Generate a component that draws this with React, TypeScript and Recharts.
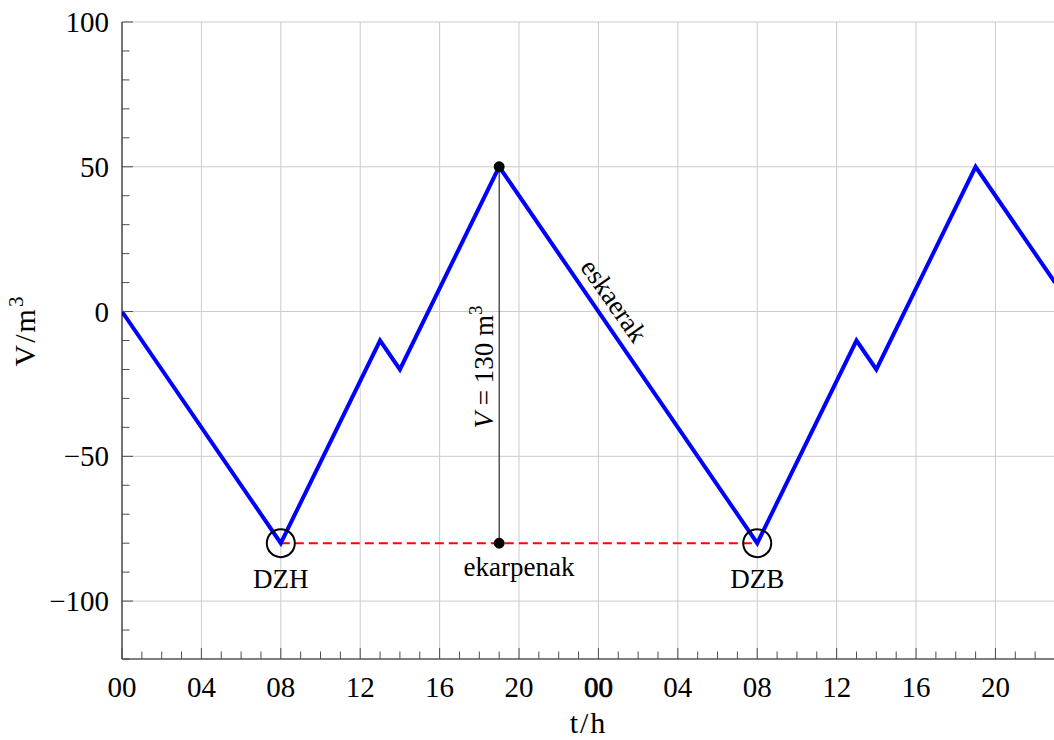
import React from 'react';
import {
  LineChart,
  Line,
  XAxis,
  YAxis,
  CartesianGrid,
  ReferenceLine,
  ReferenceDot,
} from 'recharts';

// Tank volume over two days: fill/draw cycle
const hours = [0, 8, 13, 14, 19, 32, 37, 38, 43, 47];
const volumes = [0, -80, -10, -20, 50, -80, -10, -20, 50, 10];

// Axis ticks
const majorHours = [0, 4, 8, 12, 16, 20, 24, 28, 32, 36, 40, 44];
const hourLabels = ['00', '04', '08', '12', '16', '20', '00', '04', '08', '12', '16', '20'];
const allHours = Array.from({ length: 48 }, (_, i) => i);
const majorVolumes = [-100, -50, 0, 50, 100];
const allVolumes = [-120, -110, -100, -90, -80, -70, -60, -50, -40, -30, -20, -10, 0, 10, 20, 30, 40, 50, 60, 70, 80, 90, 100];
const dayBreakHour = 24;

// Annotated points
const minHours = [8, 32];
const minLabels = ['DZH', 'DZB'];
const minVolume = -80;
const peakHour = 19;
const peakVolume = 50;
const storageVolume = peakVolume - minVolume;
const demandAnchor = { t: 24, v: 0 };

const X_DOMAIN: [number, number] = [0, 47];
const Y_DOMAIN: [number, number] = [-120, 100];

const FONT = "'Liberation Serif', 'Times New Roman', serif";
const TICK_COLOR = '#4d4d4d';
const GRID_COLOR = '#cbcbcb';

const data = hours.map((t, i) => ({ t, v: volumes[i] }));

const makeXTick = (side: 'bottom' | 'top') => (props: any) => {
  const { x, y, payload } = props;
  const value = payload.value as number;
  const idx = majorHours.indexOf(value);
  const len = idx >= 0 ? 11 : 7.5;
  const dir = side === 'bottom' ? -1 : 1;
  const heavy = value === dayBreakHour;
  return (
    <g>
      <line x1={x} x2={x} y1={y} y2={y + dir * len} stroke={TICK_COLOR} strokeWidth={1} />
      {side === 'bottom' && idx >= 0 && (
        <text
          x={x}
          y={y + 38}
          textAnchor="middle"
          fontFamily={FONT}
          fontSize={29}
          fill="#000"
          stroke={heavy ? '#000' : 'none'}
          strokeWidth={heavy ? 0.7 : 0}
        >
          {hourLabels[idx]}
        </text>
      )}
    </g>
  );
};

const formatVolume = (v: number) => (v < 0 ? `\u2212${Math.abs(v)}` : `${v}`);

const makeYTick = (side: 'left' | 'right') => (props: any) => {
  const { x, y, payload } = props;
  const value = payload.value as number;
  const major = majorVolumes.includes(value);
  const len = major ? 11 : 7.5;
  const dir = side === 'left' ? 1 : -1;
  return (
    <g>
      <line x1={x} x2={x + dir * len} y1={y} y2={y} stroke={TICK_COLOR} strokeWidth={1} />
      {side === 'left' && major && (
        <text x={x - 13} y={y + 10} textAnchor="end" fontFamily={FONT} fontSize={29} fill="#000">
          {formatVolume(value)}
        </text>
      )}
    </g>
  );
};

const XTitle = (props: any) => {
  const { viewBox } = props;
  return (
    <text
      x={viewBox.x + viewBox.width / 2}
      y={viewBox.y + 74}
      textAnchor="middle"
      fontFamily={FONT}
      fontSize={30}
      letterSpacing={2}
      fill="#000"
    >
      t/h
    </text>
  );
};

const YTitle = (props: any) => {
  const { viewBox } = props;
  const cx = viewBox.x + 35;
  const cy = viewBox.y + viewBox.height / 2 - 10;
  return (
    <text
      transform={`translate(${cx},${cy}) rotate(-90)`}
      textAnchor="middle"
      fontFamily={FONT}
      fontSize={30}
      letterSpacing={2}
      fill="#000"
    >
      V/m
      <tspan fontSize={21} dy={-12}>3</tspan>
    </text>
  );
};

const textShape = (label: string, dy: number) => (props: any) => {
  const { cx, cy } = props;
  return (
    <text x={cx} y={cy + dy} textAnchor="middle" fontFamily={FONT} fontSize={27} fill="#000">
      {label}
    </text>
  );
};

const StorageLabel = (props: any) => {
  const { cx, cy } = props;
  return (
    <text
      transform={`translate(${cx},${cy}) rotate(-90)`}
      x={-12}
      y={-6}
      textAnchor="middle"
      fontFamily={FONT}
      fontSize={27}
      fill="#000"
    >
      <tspan fontStyle="italic">V</tspan>
      <tspan> = {storageVolume} m</tspan>
      <tspan fontSize={19} dy={-11}>3</tspan>
    </text>
  );
};

const DemandLabel = (props: any) => {
  const { cx, cy } = props;
  return (
    <text
      transform={`translate(${cx},${cy}) rotate(55)`}
      x={0}
      y={-10}
      textAnchor="middle"
      fontFamily={FONT}
      fontSize={27}
      fill="#000"
    >
      eskaerak
    </text>
  );
};

export default function App() {
  return (
    <div
      style={{
        position: 'absolute',
        left: 0,
        top: 0,
        width: 1054,
        height: 740,
        overflow: 'hidden',
        background: '#fff',
      }}
    >
      <LineChart
        width={1060}
        height={740}
        data={data}
        margin={{ top: 22, right: 5, bottom: 0, left: 0 }}
      >
        <CartesianGrid
          xAxisId="b"
          yAxisId="l"
          stroke={GRID_COLOR}
          strokeWidth={1}
          verticalValues={majorHours}
          horizontalValues={majorVolumes}
        />
        <XAxis
          xAxisId="b"
          dataKey="t"
          type="number"
          domain={X_DOMAIN}
          allowDataOverflow
          ticks={allHours}
          interval={0}
          tickSize={0}
          tickMargin={0}
          tickLine={false}
          tick={makeXTick('bottom')}
          axisLine={{ stroke: '#000', strokeWidth: 1 }}
          height={81}
          label={{ content: XTitle }}
        />
        <XAxis
          xAxisId="t"
          orientation="top"
          dataKey="t"
          type="number"
          domain={X_DOMAIN}
          allowDataOverflow
          ticks={allHours}
          interval={0}
          tickSize={0}
          tickMargin={0}
          tickLine={false}
          tick={makeXTick('top')}
          axisLine={{ stroke: '#000', strokeWidth: 1 }}
          height={0}
        />
        <YAxis
          yAxisId="l"
          type="number"
          domain={Y_DOMAIN}
          allowDataOverflow
          ticks={allVolumes}
          interval={0}
          tickSize={0}
          tickMargin={0}
          tickLine={false}
          tick={makeYTick('left')}
          axisLine={{ stroke: '#000', strokeWidth: 1 }}
          width={122}
          label={{ content: YTitle }}
        />
        <YAxis
          yAxisId="r"
          orientation="right"
          type="number"
          domain={Y_DOMAIN}
          allowDataOverflow
          ticks={allVolumes}
          interval={0}
          tickSize={0}
          tickMargin={0}
          tickLine={false}
          tick={makeYTick('right')}
          axisLine={{ stroke: '#000', strokeWidth: 1 }}
          width={0}
        />

        <ReferenceLine
          xAxisId="b"
          yAxisId="l"
          segment={[
            { x: minHours[0], y: minVolume },
            { x: minHours[1], y: minVolume },
          ]}
          stroke="#ff0000"
          strokeWidth={2}
          strokeDasharray="9 5"
        />
        <ReferenceLine
          xAxisId="b"
          yAxisId="l"
          segment={[
            { x: peakHour, y: minVolume },
            { x: peakHour, y: peakVolume },
          ]}
          stroke="#000"
          strokeWidth={1}
        />

        <Line
          xAxisId="b"
          yAxisId="l"
          type="linear"
          dataKey="v"
          stroke="#0000ff"
          strokeWidth={4}
          dot={false}
          activeDot={false}
          isAnimationActive={false}
        />

        {minHours.map((h, i) => (
          <ReferenceDot
            key={`ring-${i}`}
            xAxisId="b"
            yAxisId="l"
            x={h}
            y={minVolume}
            r={14}
            fill="none"
            stroke="#000"
            strokeWidth={2}
          />
        ))}
        {minHours.map((h, i) => (
          <ReferenceDot
            key={`name-${i}`}
            xAxisId="b"
            yAxisId="l"
            x={h}
            y={minVolume}
            r={0}
            shape={textShape(minLabels[i], 45)}
          />
        ))}
        <ReferenceDot
          xAxisId="b"
          yAxisId="l"
          x={peakHour}
          y={peakVolume}
          r={5}
          fill="#000"
          stroke="#000"
        />
        <ReferenceDot
          xAxisId="b"
          yAxisId="l"
          x={peakHour}
          y={minVolume}
          r={5}
          fill="#000"
          stroke="#000"
        />
        <ReferenceDot
          xAxisId="b"
          yAxisId="l"
          x={(minHours[0] + minHours[1]) / 2}
          y={minVolume}
          r={0}
          shape={textShape('ekarpenak', 33)}
        />
        <ReferenceDot
          xAxisId="b"
          yAxisId="l"
          x={peakHour}
          y={(peakVolume + minVolume) / 2}
          r={0}
          shape={StorageLabel}
        />
        <ReferenceDot
          xAxisId="b"
          yAxisId="l"
          x={demandAnchor.t}
          y={demandAnchor.v}
          r={0}
          shape={DemandLabel}
        />
      </LineChart>
    </div>
  );
}
